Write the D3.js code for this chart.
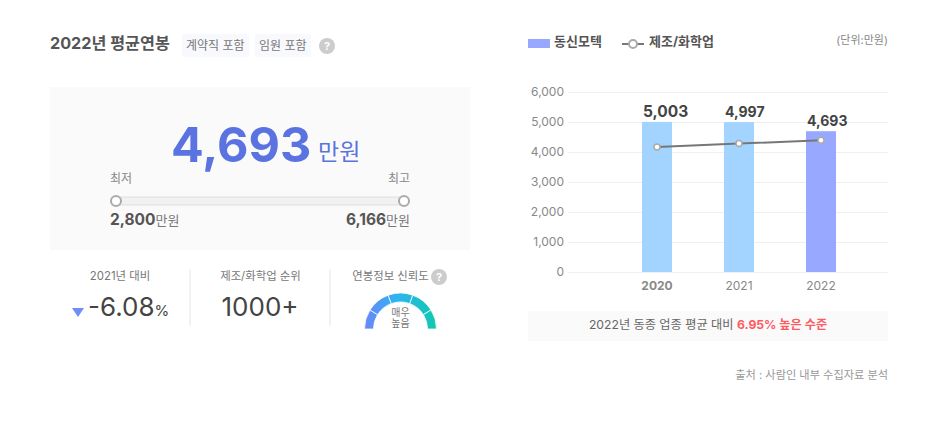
<!DOCTYPE html>
<html>
<head>
<meta charset="utf-8">
<script src="https://cdnjs.cloudflare.com/ajax/libs/d3/7.8.5/d3.min.js"></script>
<style>
html, body { margin: 0; padding: 0; background: #fff; }
svg { display: block; }
text { font-family: Inter, "Noto Sans CJK KR", sans-serif; }
.grid line { stroke: #eeeff1; }
.domain { display: none; }
</style>
</head>
<body>
<script>
var width = 947;
var height = 426;

//Chart data
var years = ["2020", "2021", "2022"];
var companySalary = [5003, 4997, 4693];
var industrySalary = [4170, 4280, 4390];
var yTicks = [0, 1000, 2000, 3000, 4000, 5000, 6000];
var salaryRange = [2800, 6166];
var gaugeStops = [-90, -58, -20, 20, 58, 90];

var svg = d3.select("body")
    .append("svg")
    .attr("width", width)
    .attr("height", height);

//Gauge gradient, left to right across the arc
var defs = svg.append("defs");
var grad = defs.append("linearGradient")
    .attr("id", "gaugeFill")
    .attr("gradientUnits", "userSpaceOnUse")
    .attr("x1", -36).attr("x2", 36).attr("y1", 0).attr("y2", 0);
grad.append("stop").attr("offset", "0%").attr("stop-color", "#6c86f6");
grad.append("stop").attr("offset", "45%").attr("stop-color", "#2db4f2");
grad.append("stop").attr("offset", "100%").attr("stop-color", "#0fc9ad");

function label(x, y, str, size, color, anchor, weight) {
    return svg.append("text")
        .attr("x", x)
        .attr("y", y)
        .attr("font-size", size)
        .attr("fill", color)
        .attr("text-anchor", anchor || "start")
        .attr("font-weight", weight || 400)
        .text(str);
}

function helpIcon(x, y) {
    svg.append("circle").attr("cx", x).attr("cy", y).attr("r", 8).attr("fill", "#cccccc");
    label(x, y + 4, "?", 11, "#fff", "middle", 700);
}

//Header
label(50, 49, "2022년 평균연봉", 16.2, "#555555", "start", 700);
svg.append("rect").attr("x", 182).attr("y", 34).attr("width", 67).attr("height", 23).attr("rx", 2).attr("fill", "#f8f9fd");
svg.append("rect").attr("x", 255).attr("y", 34).attr("width", 56).attr("height", 23).attr("rx", 2).attr("fill", "#f8f9fd");
label(186, 50, "계약직 포함", 12, "#777777");
label(259, 50, "임원 포함", 12, "#777777");
helpIcon(327, 46);

//Summary box
svg.append("rect").attr("x", 50).attr("y", 87).attr("width", 420).attr("height", 163).attr("fill", "#fafafa");
label(171, 162, d3.format(",")(companySalary[2]), 48.5, "#5b73e0", "start", 700);
label(318, 160, "만원", 23, "#5b73e0");
label(110, 183, "최저", 12, "#888888");
label(410, 183, "최고", 12, "#888888", "end");

//Range slider
var xRange = d3.scaleLinear().domain(salaryRange).range([116, 404]);
svg.append("rect")
    .attr("x", xRange(salaryRange[0]))
    .attr("y", 197)
    .attr("width", xRange(salaryRange[1]) - xRange(salaryRange[0]))
    .attr("height", 8)
    .attr("fill", "#f1f1f1")
    .attr("stroke", "#dddddd");
svg.selectAll("circle.end")
    .data(salaryRange)
    .enter().append("circle")
    .attr("class", "end")
    .attr("cx", function(d) { return xRange(d); })
    .attr("cy", 201)
    .attr("r", 5)
    .attr("fill", "#fff")
    .attr("stroke", "#aaaaaa")
    .attr("stroke-width", 2);

var minText = label(110, 225, "", 15.5, "#555555", "start", 700);
minText.append("tspan").text(d3.format(",")(salaryRange[0]));
minText.append("tspan").attr("font-size", 13).attr("font-weight", 400).attr("fill", "#777777").text("만원");
var maxText = label(410, 225, "", 15.5, "#555555", "end", 700);
maxText.append("tspan").text(d3.format(",")(salaryRange[1]));
maxText.append("tspan").attr("font-size", 13).attr("font-weight", 400).attr("fill", "#777777").text("만원");

//Bottom stats
label(120, 280, "2021년 대비", 11.4, "#777777", "middle");
svg.append("path").attr("d", "M72,308 L84,308 L78,317 Z").attr("fill", "#6f8df5");
var pct = label(88, 316, "-6.08", 26, "#444444");
pct.append("tspan").attr("font-size", 15).text("%");
label(260.5, 280, "제조/화학업 순위", 11.4, "#777777", "middle");
label(260, 316, "1000+", 26, "#444444", "middle");
label(390.5, 280, "연봉정보 신뢰도", 11.4, "#777777", "middle");
helpIcon(439, 277);

svg.selectAll("line.sep")
    .data([190, 330])
    .enter().append("line")
    .attr("class", "sep")
    .attr("x1", function(d) { return d; })
    .attr("x2", function(d) { return d; })
    .attr("y1", 270)
    .attr("y2", 326)
    .attr("stroke", "#e6e6e6");

//Reliability gauge
var arc = d3.arc().innerRadius(27).outerRadius(36);
var gaugeParts = d3.pairs(gaugeStops);
svg.append("g")
    .attr("transform", "translate(400.5,329)")
    .selectAll("path")
    .data(gaugeParts)
    .enter().append("path")
    .attr("d", function(d) {
        return arc({ startAngle: d[0] * Math.PI / 180, endAngle: d[1] * Math.PI / 180 });
    })
    .attr("fill", "url(#gaugeFill)")
    .attr("stroke", "#fff")
    .attr("stroke-width", 0.8);
label(400.5, 316, "매우", 10, "#777777", "middle");
label(400.5, 327, "높음", 10, "#777777", "middle");

//Right chart legend
svg.append("rect").attr("x", 528).attr("y", 39).attr("width", 22).attr("height", 9).attr("fill", "#98a8ff");
label(554, 46, "동신모텍", 13, "#555555", "start", 700);
svg.append("line").attr("x1", 622).attr("x2", 644).attr("y1", 44).attr("y2", 44).attr("stroke", "#777777").attr("stroke-width", 2);
svg.append("circle").attr("cx", 633).attr("cy", 44).attr("r", 4).attr("fill", "#fff").attr("stroke", "#aaaaaa").attr("stroke-width", 2);
label(649, 46, "제조/화학업", 13, "#555555", "start", 700);
label(888, 44, "(단위:만원)", 11, "#888888", "end");

//Scales
var x = d3.scaleBand()
    .domain(years)
    .range([616, 862])
    .paddingInner(52 / 82)
    .paddingOuter(26 / 82);

var y = d3.scaleLinear()
    .domain([0, 6000])
    .range([272, 92]);

//Axes
var yAxis = svg.append("g")
    .attr("class", "grid")
    .attr("transform", "translate(568,0)")
    .call(d3.axisLeft(y)
        .tickValues(yTicks)
        .tickSize(0)
        .tickPadding(4)
        .tickFormat(d3.format(",")));
yAxis.selectAll(".tick line").attr("x2", 320);
yAxis.selectAll("text")
    .attr("font-size", 12)
    .attr("fill", "#888888")
    .style("font-family", "Inter, sans-serif");

var xAxis = svg.append("g")
    .attr("transform", "translate(0,272)")
    .call(d3.axisBottom(x).tickSize(0).tickPadding(9));
xAxis.selectAll("text")
    .attr("font-size", 12)
    .attr("fill", "#888888")
    .attr("font-weight", function(d) { return d == "2020" ? 700 : 400; })
    .style("font-family", "Inter, sans-serif");

//Bars
svg.selectAll("rect.bar")
    .data(companySalary)
    .enter().append("rect")
    .attr("class", "bar")
    .attr("x", function(d, i) { return x(years[i]); })
    .attr("y", function(d) { return y(d); })
    .attr("width", x.bandwidth())
    .attr("height", function(d) { return y(0) - y(d); })
    .attr("fill", function(d, i) { return i == 2 ? "#98a8ff" : "#a3d4ff"; });

//Bar value labels start at the bar's left edge
svg.selectAll("text.val")
    .data(companySalary)
    .enter().append("text")
    .attr("class", "val")
    .attr("x", function(d, i) { return x(years[i]) + 1; })
    .attr("y", function(d) { return y(d) - 5; })
    .attr("font-size", function(d, i) { return i == 0 ? 15.5 : 14; })
    .attr("font-weight", 700)
    .attr("fill", "#444444")
    .text(d3.format(","));

//Industry line
var line = d3.line()
    .x(function(d, i) { return x(years[i]) + x.bandwidth() / 2; })
    .y(function(d) { return y(d); });

svg.append("path")
    .datum(industrySalary)
    .attr("d", line)
    .attr("fill", "none")
    .attr("stroke", "#777777")
    .attr("stroke-width", 2);

svg.selectAll("circle.pt")
    .data(industrySalary)
    .enter().append("circle")
    .attr("class", "pt")
    .attr("cx", function(d, i) { return x(years[i]) + x.bandwidth() / 2; })
    .attr("cy", function(d) { return y(d); })
    .attr("r", 3)
    .attr("fill", "#fff")
    .attr("stroke", "#aaaaaa")
    .attr("stroke-width", 1.5);

//Footer note
svg.append("rect").attr("x", 528).attr("y", 311).attr("width", 360).attr("height", 30).attr("fill", "#fafafa");
var note = label(708, 329, "2022년 동종 업종 평균 대비 ", 12.2, "#666666", "middle");
note.append("tspan").attr("fill", "#ff5a5f").attr("font-weight", 700).text("6.95% 높은 수준");
label(888, 379, "출처 : 사람인 내부 수집자료 분석", 11.2, "#999999", "end");
</script>
</body>
</html>
